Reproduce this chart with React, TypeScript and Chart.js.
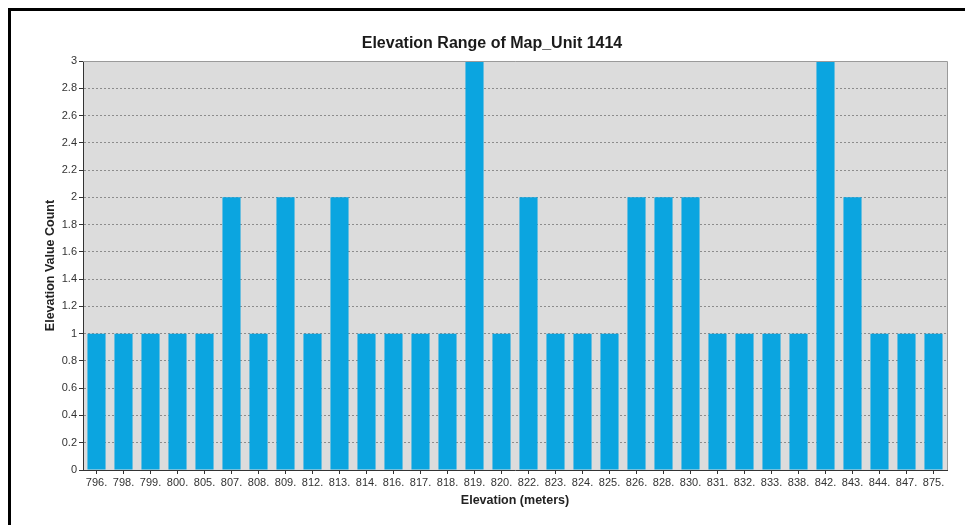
import React, { useEffect, useRef } from "react";
import { Chart, registerables } from "chart.js";

Chart.register(...registerables);

const chartTitle = "Elevation Range of Map_Unit 1414";
const xAxisTitle = "Elevation (meters)";
const yAxisTitle = "Elevation Value Count";

const categories = [
  "796.", "798.", "799.", "800.", "805.", "807.", "808.", "809.", "812.", "813.",
  "814.", "816.", "817.", "818.", "819.", "820.", "822.", "823.", "824.", "825.",
  "826.", "828.", "830.", "831.", "832.", "833.", "838.", "842.", "843.", "844.",
  "847.", "875.",
];

const counts = [
  1, 1, 1, 1, 1, 2, 1, 2, 1, 2,
  1, 1, 1, 1, 3, 1, 2, 1, 1, 1,
  2, 2, 2, 1, 1, 1, 1, 3, 2, 1,
  1, 1,
];

const yMin = 0;
const yMax = 3;
const yStep = 0.2;

const FONT = "'Liberation Sans', Arial, sans-serif";

const decorPlugin = {
  id: "decor",
  beforeDraw(chart: any) {
    const { ctx, chartArea } = chart;
    ctx.save();
    ctx.fillStyle = "#ffffff";
    ctx.fillRect(0, 0, chart.width, chart.height);
    ctx.fillStyle = "#dcdcdc";
    ctx.fillRect(chartArea.left, chartArea.top, chartArea.right - chartArea.left, chartArea.bottom - chartArea.top);
    ctx.restore();
  },
  afterDraw(chart: any) {
    const { ctx, chartArea } = chart;
    ctx.save();
    // plot frame (top and right)
    ctx.strokeStyle = "#9a9a9a";
    ctx.lineWidth = 1;
    ctx.beginPath();
    ctx.moveTo(chartArea.left, chartArea.top + 0.5);
    ctx.lineTo(chartArea.right + 0.5, chartArea.top + 0.5);
    ctx.lineTo(chartArea.right + 0.5, chartArea.bottom);
    ctx.stroke();
    // outer frame (left and top black lines)
    ctx.fillStyle = "#000000";
    ctx.fillRect(8, 8, 3, chart.height - 8);
    ctx.fillRect(8, 8, chart.width - 8, 3);
    // title
    ctx.fillStyle = "#1a1a1a";
    ctx.font = `bold 16px ${FONT}`;
    ctx.textAlign = "center";
    ctx.textBaseline = "middle";
    ctx.fillText(chartTitle, 492, 44);
    ctx.restore();
  },
};

export default function App() {
  const canvasRef = useRef<HTMLCanvasElement | null>(null);

  useEffect(() => {
    const canvas = canvasRef.current;
    if (!canvas) return;
    const chart = new Chart(canvas, {
      type: "bar",
      data: {
        labels: categories,
        datasets: [
          {
            data: counts,
            backgroundColor: "#0ba5e0",
            borderWidth: 0,
            barPercentage: 0.67,
            categoryPercentage: 1,
          },
        ],
      },
      options: {
        responsive: false,
        animation: false,
        devicePixelRatio: 1,
        layout: { padding: { top: 61, right: 18, left: 0, bottom: 0 } },
        plugins: {
          legend: { display: false },
          title: { display: false },
          tooltip: { enabled: false },
        },
        scales: {
          x: {
            afterFit: (scale: any) => {
              scale.height = 55;
            },
            grid: {
              display: true,
              drawOnChartArea: false,
              drawTicks: true,
              offset: false,
              tickLength: 4,
              tickColor: "#333333",
              tickWidth: 1,
            },
            border: { display: true, color: "#333333", width: 1 },
            ticks: {
              color: "#333333",
              font: { family: FONT, size: 11 },
              padding: 2,
              maxRotation: 0,
              minRotation: 0,
              autoSkip: false,
            },
            title: {
              display: true,
              text: xAxisTitle,
              color: "#222222",
              font: { family: FONT, size: 12.5, weight: "bold" },
              padding: { top: 0, bottom: 17 },
            },
          },
          y: {
            min: yMin,
            max: yMax,
            afterFit: (scale: any) => {
              scale.width = 83;
            },
            grid: {
              display: true,
              drawOnChartArea: true,
              drawTicks: true,
              color: "#8c8c8c",
              lineWidth: 1,
              tickLength: 4,
              tickColor: "#333333",
              tickBorderDash: [],
            },
            border: { display: true, color: "#333333", width: 1, dash: [2, 2] },
            ticks: {
              stepSize: yStep,
              color: "#333333",
              font: { family: FONT, size: 11 },
              padding: 2,
              callback: (v: any) => String(Number(Number(v).toFixed(1))),
            },
            title: {
              display: true,
              text: yAxisTitle,
              color: "#222222",
              font: { family: FONT, size: 12.5, weight: "bold" },
              padding: { top: 43, bottom: 0 },
            },
          },
        },
      },
      plugins: [decorPlugin],
    });
    return () => chart.destroy();
  }, []);

  return (
    <canvas
      ref={canvasRef}
      width={965}
      height={525}
      style={{ position: "fixed", left: 0, top: 0, width: 965, height: 525, display: "block" }}
    />
  );
}
